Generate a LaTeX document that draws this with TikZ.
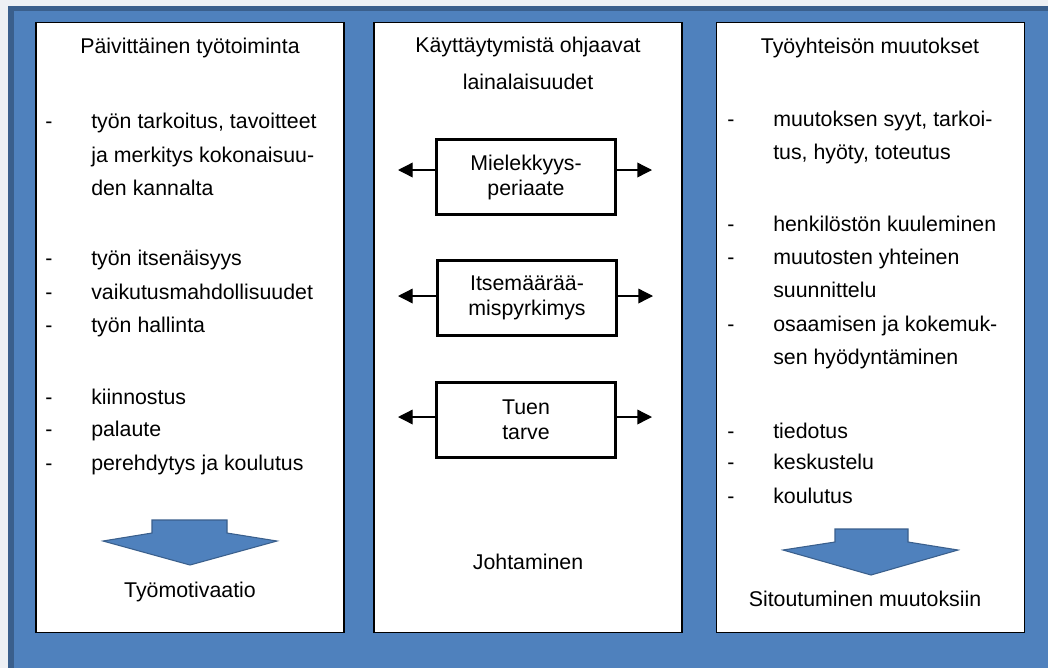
\documentclass[tikz,border=0pt]{standalone}
\usepackage{fontspec}
\setmainfont{Liberation Sans}
\usetikzlibrary{arrows.meta}

\definecolor{blueA}{HTML}{4F81BD}
\definecolor{blueD}{HTML}{3A5F8C}
\definecolor{edgeL}{HTML}{EDF0F4}

\newcommand{\itemdash}{\makebox[34.5pt][l]{-}}

\tikzset{
  panel/.style={draw, rectangle, fill=white, line width=0.8pt, minimum width=231pt, minimum height=458pt},
  item/.style={anchor=base west, inner sep=0pt},
  head/.style={anchor=base, inner sep=0pt},
  rulebox/.style={draw, rectangle, line width=2.2pt, minimum width=134pt, minimum height=56pt, align=center, font=\fontsize{16pt}{18.75pt}\selectfont},
  thin/.style={line width=1pt, -{Triangle[length=11pt,width=11pt]}},
  bigarrow/.style={fill=blueA, draw=blueD, line width=0.8pt}
}

\begin{document}
\begin{tikzpicture}[x=0.75pt, y=-0.75pt, font=\fontsize{16pt}{25pt}\selectfont]
        \useasboundingbox (0,0) rectangle (1048,668);
        % background
        \fill[edgeL] (0,0) rectangle (1048,668);
        \fill[blueA] (8,6) rectangle (1048,668);
        \fill[blueD] (8,6) rectangle (1048,11);
        \fill[blueD] (8,6) rectangle (14,668);

        % three columns
        \node[panel] (P1) at (190,327.5) {};
        \node[panel] (P2) at (528,327.5) {};
        \node[panel] (P3) at (870.5,327.5) {};

        % left column
        \node[head] (T1) at (190,53) {Päivittäinen työtoiminta};
        \node[item] (L1) at (45,128) {\itemdash työn tarkoitus, tavoitteet};
        \node[item] (L2) at (91,162) {ja merkitys kokonaisuu-};
        \node[item] (L3) at (91,195) {den kannalta};
        \node[item] (L4) at (45,265) {\itemdash työn itsenäisyys};
        \node[item] (L5) at (45,299) {\itemdash vaikutusmahdollisuudet};
        \node[item] (L6) at (45,332) {\itemdash työn hallinta};
        \node[item] (L7) at (45,404) {\itemdash kiinnostus};
        \node[item] (L8) at (45,436) {\itemdash palaute};
        \node[item] (L9) at (45,470) {\itemdash perehdytys ja koulutus};
        \draw[bigarrow] (152,520) -- (227,520) -- (227,533) -- (277,541) -- (190,565) -- (103,541) -- (152,533) -- cycle;
        \node[head] (E1) at (190,597) {Työmotivaatio};

        % middle column
        \node[head] (T2) at (528,52) {Käyttäytymistä ohjaavat};
        \node[head] (T2b) at (528,89) {lainalaisuudet};
        \node[rulebox] (M1) at (526,177) {Mielekkyys-\\periaate};
        \node[rulebox] (M2) at (527,298) {Itsemäärää-\\mispyrkimys};
        \node[rulebox] (M3) at (526,420) {Tuen\\tarve};
        \coordinate (M1l) at (398,170);
        \coordinate (M1r) at (652,170);
        \coordinate (M2l) at (398,296);
        \coordinate (M2r) at (653,296);
        \coordinate (M3l) at (398,417);
        \coordinate (M3r) at (652,417);
        \draw[thin] (M1.west |- M1l) -- (M1l);
        \draw[thin] (M1.east |- M1r) -- (M1r);
        \draw[thin] (M2.west |- M2l) -- (M2l);
        \draw[thin] (M2.east |- M2r) -- (M2r);
        \draw[thin] (M3.west |- M3l) -- (M3l);
        \draw[thin] (M3.east |- M3r) -- (M3r);
        \node[head] (E2) at (528,569) {Johtaminen};

        % right column
        \node[head] (T3) at (870,53) {Työyhteisön muutokset};
        \node[item] (R1) at (727,126) {\itemdash muutoksen syyt, tarkoi-};
        \node[item] (R2) at (773,159) {tus, hyöty, toteutus};
        \node[item] (R3) at (727,231) {\itemdash henkilöstön kuuleminen};
        \node[item] (R4) at (727,264) {\itemdash muutosten yhteinen};
        \node[item] (R5) at (773,297) {suunnittelu};
        \node[item] (R6) at (727,331) {\itemdash osaamisen ja kokemuk-};
        \node[item] (R7) at (773,364) {sen hyödyntäminen};
        \node[item] (R8) at (727,438) {\itemdash tiedotus};
        \node[item] (R9) at (727,469) {\itemdash keskustelu};
        \node[item] (R10) at (727,503) {\itemdash koulutus};
        \draw[bigarrow] (835,529) -- (908,529) -- (908,542) -- (958,550) -- (871,575) -- (783,550) -- (835,542) -- cycle;
        \node[head] (E3) at (865,606) {Sitoutuminen muutoksiin};
    \end{tikzpicture}
\end{document}
